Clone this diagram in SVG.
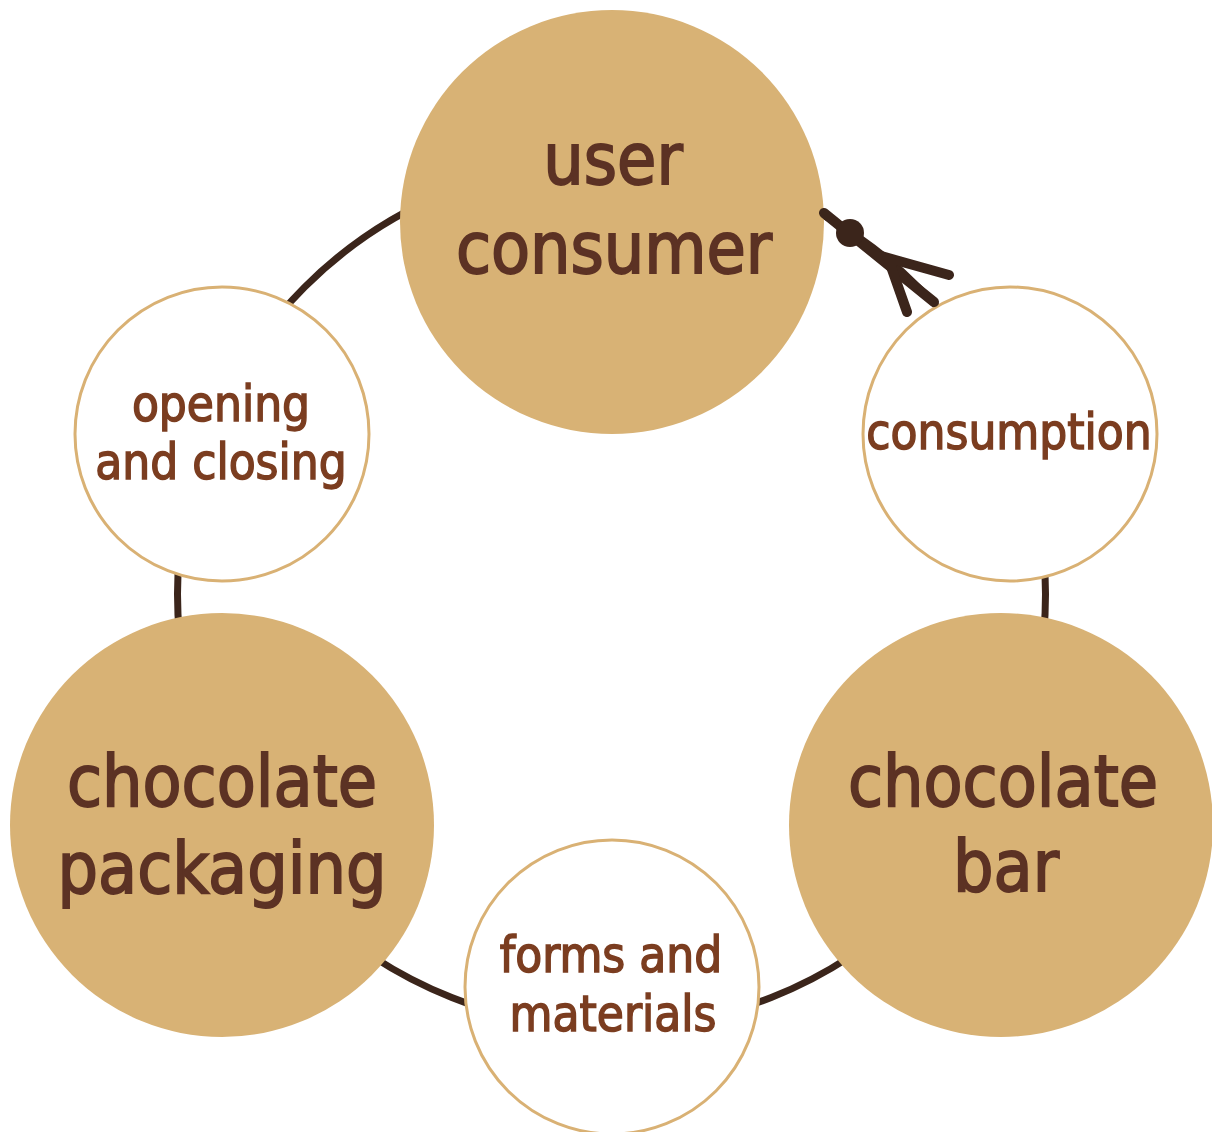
<svg xmlns="http://www.w3.org/2000/svg" width="1212" height="1132" viewBox="0 0 1212 1132">
<style>
.big{fill:#d8b275;}
.small{fill:#ffffff;stroke:#d9b174;stroke-width:3;}
.bt{font-family:"DejaVu Sans Condensed","DejaVu Sans",sans-serif;font-stretch:condensed;font-size:71px;fill:#5c3224;stroke:#5c3224;stroke-width:1.8;text-anchor:middle;}
.st{font-family:"DejaVu Sans Condensed","DejaVu Sans",sans-serif;font-stretch:condensed;font-size:49px;fill:#7b3d20;stroke:#7b3d20;stroke-width:1.4;text-anchor:middle;}
.ring{fill:none;stroke:#3b251b;stroke-width:7;}
.arr{fill:none;stroke:#3b251b;stroke-width:10;stroke-linecap:round;}
</style>
<rect width="1212" height="1132" fill="#ffffff"/>
<g id="connectors">
<circle class="ring" cx="611.5" cy="594" r="434"/>
</g>
<g id="user-consumer">
<circle class="big" cx="612" cy="222" r="212"/>
<text class="bt" x="613" y="184">user</text>
<text class="bt" x="614" y="273">consumer</text>
</g>
<g id="chocolate-packaging">
<circle class="big" cx="222" cy="825" r="212"/>
<text class="bt" x="222" y="806">chocolate</text>
<text class="bt" x="222" y="893">packaging</text>
</g>
<g id="chocolate-bar">
<circle class="big" cx="1001" cy="825" r="212"/>
<text class="bt" x="1003" y="806">chocolate</text>
<text class="bt" x="1006" y="891">bar</text>
</g>
<g id="opening-and-closing">
<circle class="small" cx="222" cy="434" r="147"/>
<text class="st" x="221" y="421">opening</text>
<text class="st" x="221" y="479">and closing</text>
</g>
<g id="consumption">
<circle class="small" cx="1010" cy="434" r="147"/>
<text class="st" x="1009" y="449">consumption</text>
</g>
<g id="forms-and-materials">
<circle class="small" cx="612" cy="987" r="147"/>
<text class="st" x="611" y="972">forms and</text>
<text class="st" x="613" y="1031">materials</text>
</g>
<g id="arrow">
<line class="arr" x1="824" y1="213" x2="934" y2="302" stroke-linecap="butt"/>
<circle cx="850" cy="233" r="14" fill="#3b251b"/>
<polyline class="arr" points="949,275 888,258 907,312"/>
</g>
</svg>
